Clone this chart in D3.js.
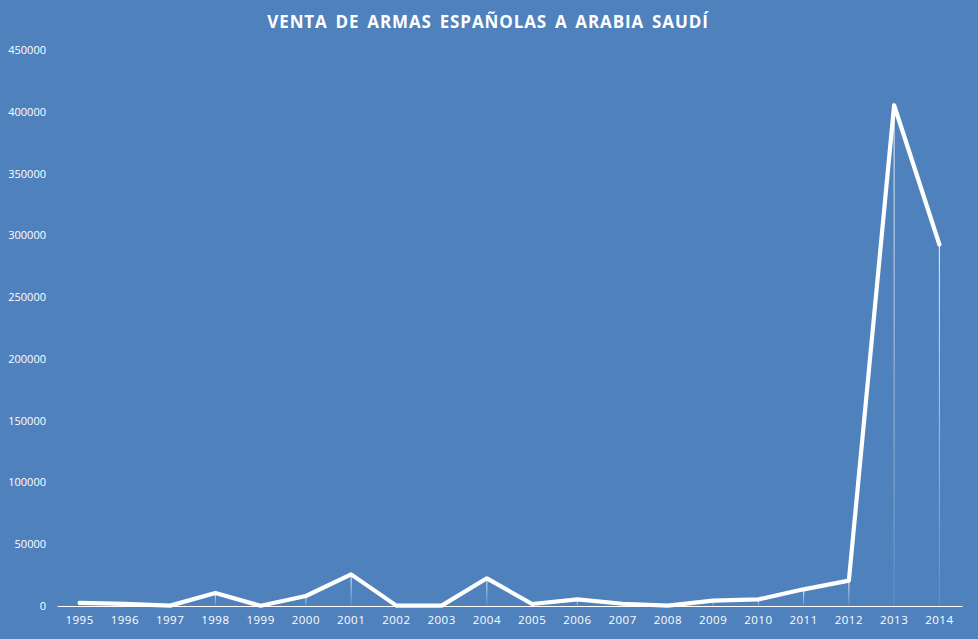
<!DOCTYPE html>
<html>
<head>
<meta charset="utf-8">
<script src="https://cdn.jsdelivr.net/npm/d3@7"></script>
<style>
  html, body { margin: 0; padding: 0; background: #4f81bd; }
  svg { display: block; }
  text { font-family: "Open Sans", "Liberation Sans", sans-serif; fill: #fff; }
</style>
</head>
<body>
<svg id="chart" width="978" height="639"></svg>
<script>
const years = ["1995","1996","1997","1998","1999","2000","2001","2002","2003","2004",
               "2005","2006","2007","2008","2009","2010","2011","2012","2013","2014"]
const ventas = [2500, 1800, 300, 10500, 200, 8100, 25600, 300, 300, 22400,
                1600, 5400, 1800, 300, 4300, 5400, 13500, 20500, 405300, 292600]
const y_ticks = [0, 50000, 100000, 150000, 200000, 250000, 300000, 350000, 400000, 450000]
const title = "VENTA DE ARMAS ESPAÑOLAS A ARABIA SAUDÍ"

const svg = d3.select("#chart")
const W = 978, H = 639
const margin = {left: 57, right: 16, top: 50, bottom: 33}

const x = d3.scaleBand()
    .domain(years)
    .range([margin.left, W - margin.right])

const y = d3.scaleLinear()
    .domain([0, 450000])
    .range([H - margin.bottom, margin.top])

svg.append("rect").attr("width", W).attr("height", H).attr("fill", "#4f81bd")

// gradient for the drop lines
const grad = svg.append("defs").append("linearGradient")
    .attr("id", "drop").attr("x1", 0).attr("y1", 0).attr("x2", 0).attr("y2", 1)
grad.append("stop").attr("offset", "0%").attr("stop-color", "#fff").attr("stop-opacity", 0.9)
grad.append("stop").attr("offset", "100%").attr("stop-color", "#fff").attr("stop-opacity", 0.1)

svg.append("text")
    .attr("x", 488)
    .attr("y", 28)
    .attr("text-anchor", "middle")
    .style("font-size", "17px")
    .style("font-weight", "bold")
    .style("letter-spacing", "0.9px")
    .style("word-spacing", "2.5px")
    .text(title)

// y axis labels (no axis line)
const yAxis = svg.append("g")
    .attr("transform", `translate(${margin.left - 11},0)`)
    .call(d3.axisLeft(y).tickValues(y_ticks).tickSize(0).tickPadding(0).tickFormat(d3.format("d")))
yAxis.select(".domain").remove()
yAxis.selectAll("text").style("font-size", "11px").attr("fill", "#fff")

// x axis
const xAxis = svg.append("g")
    .attr("transform", `translate(0,${y(0)})`)
    .call(d3.axisBottom(x).tickSize(0).tickPadding(10))
xAxis.select(".domain").attr("stroke", "#fff").attr("stroke-width", 1.2)
xAxis.selectAll("text").style("font-size", "11.5px").attr("fill", "#fff").style("letter-spacing", "0.5px")

// drop lines
svg.append("g").selectAll("rect")
    .data(ventas)
    .join("rect")
    .attr("x", (d, i) => x(years[i]) + x.bandwidth() / 2 - 0.5)
    .attr("y", d => y(d))
    .attr("width", 1)
    .attr("height", d => y(0) - y(d))
    .attr("fill", "url(#drop)")

const line = d3.line()
    .x((d, i) => x(years[i]) + x.bandwidth() / 2)
    .y(d => y(d))

svg.append("path")
    .datum(ventas)
    .attr("d", line)
    .attr("fill", "none")
    .attr("stroke", "#fff")
    .attr("stroke-width", 4.2)
    .attr("stroke-linejoin", "round")
    .attr("stroke-linecap", "round")
</script>
</body>
</html>
